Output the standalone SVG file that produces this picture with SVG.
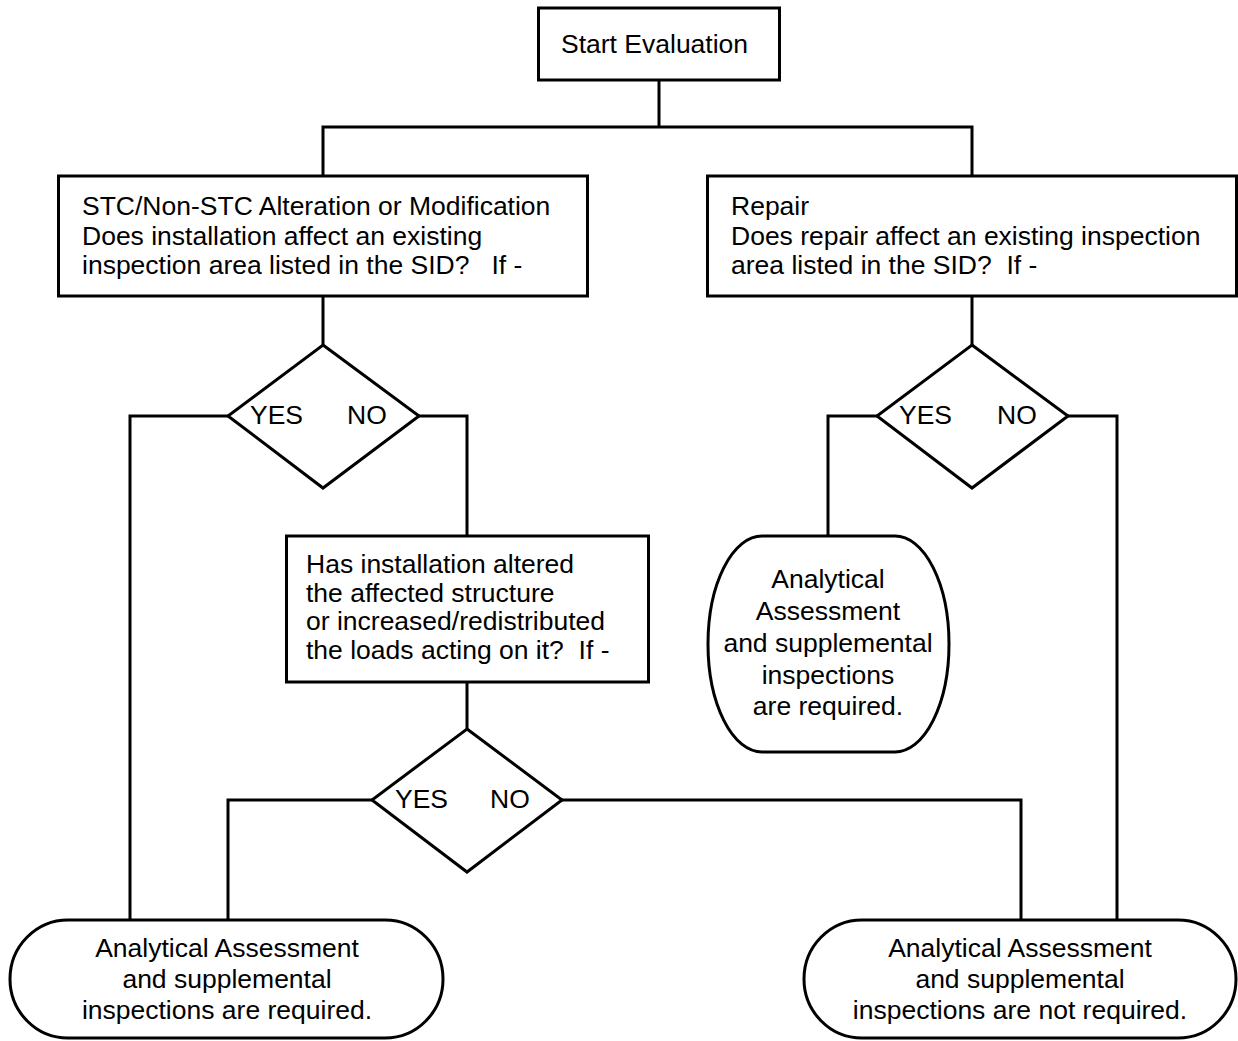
<svg xmlns="http://www.w3.org/2000/svg" width="1238" height="1041" viewBox="0 0 1238 1041">
<style>
.s{fill:#fff;stroke:#000;stroke-width:3}
.c{fill:none;stroke:#000;stroke-width:3}
text{font-family:"Liberation Sans",Arial,sans-serif;font-size:26.5px;fill:#000;white-space:pre}
.m{text-anchor:middle}
</style>
<rect width="1238" height="1041" fill="#fff"/>
<g id="connectors">
<polyline class="c" points="659,80 659,127"/>
<polyline class="c" points="323,176 323,127 972,127 972,176"/>
<polyline class="c" points="323,296 323,345"/>
<polyline class="c" points="972,296 972,345"/>
<polyline class="c" points="228,416 130,416 130,920"/>
<polyline class="c" points="419,416 467,416 467,536"/>
<polyline class="c" points="877,416 828,416 828,536"/>
<polyline class="c" points="1068,416 1117,416 1117,920"/>
<polyline class="c" points="467,682 467,729"/>
<polyline class="c" points="372,800 228,800 228,920"/>
<polyline class="c" points="562,800 1021,800 1021,920"/>
</g>
<g id="start">
<rect class="s" x="538.5" y="8" width="241" height="72"/>
<text x="561" y="53">Start Evaluation</text>
</g>
<g id="stc">
<rect class="s" x="58.5" y="176" width="529" height="120"/>
<text x="82" y="215">STC/Non-STC Alteration or Modification</text>
<text x="82" y="245">Does installation affect an existing</text>
<text x="82" y="274">inspection area listed in the SID?   If -</text>
</g>
<g id="repair">
<rect class="s" x="707.5" y="176" width="529" height="120"/>
<text x="731" y="215">Repair</text>
<text x="731" y="245">Does repair affect an existing inspection</text>
<text x="731" y="274">area listed in the SID?  If -</text>
</g>
<g id="decision1">
<polygon class="s" points="323,345 419,416 323,488 228,416"/>
<text x="250" y="424">YES</text>
<text x="347" y="424">NO</text>
</g>
<g id="decision2">
<polygon class="s" points="972,345 1068,416 972,488 877,416"/>
<text x="899" y="424">YES</text>
<text x="997" y="424">NO</text>
</g>
<g id="altered">
<rect class="s" x="286.5" y="536" width="362" height="146"/>
<text x="306" y="573">Has installation altered</text>
<text x="306" y="602">the affected structure</text>
<text x="306" y="630">or increased/redistributed</text>
<text x="306" y="659">the loads acting on it?  If -</text>
</g>
<g id="decision3">
<polygon class="s" points="467,729 562,800 467,872 372,800"/>
<text x="395" y="808">YES</text>
<text x="490" y="808">NO</text>
</g>
<g id="required-repair">
<rect class="s" x="708" y="536" width="241" height="216" rx="54" ry="108"/>
<text class="m" x="828" y="588">Analytical</text>
<text class="m" x="828" y="620">Assessment</text>
<text class="m" x="828" y="652">and supplemental</text>
<text class="m" x="828" y="684">inspections</text>
<text class="m" x="828" y="715">are required.</text>
</g>
<g id="required">
<rect class="s" x="10" y="920" width="433" height="118" rx="58" ry="59"/>
<text class="m" x="227" y="957">Analytical Assessment</text>
<text class="m" x="227" y="988">and supplemental</text>
<text class="m" x="227" y="1019">inspections are required.</text>
</g>
<g id="not-required">
<rect class="s" x="804" y="920" width="432" height="118" rx="58" ry="59"/>
<text class="m" x="1020" y="957">Analytical Assessment</text>
<text class="m" x="1020" y="988">and supplemental</text>
<text class="m" x="1020" y="1019">inspections are not required.</text>
</g>
</svg>
